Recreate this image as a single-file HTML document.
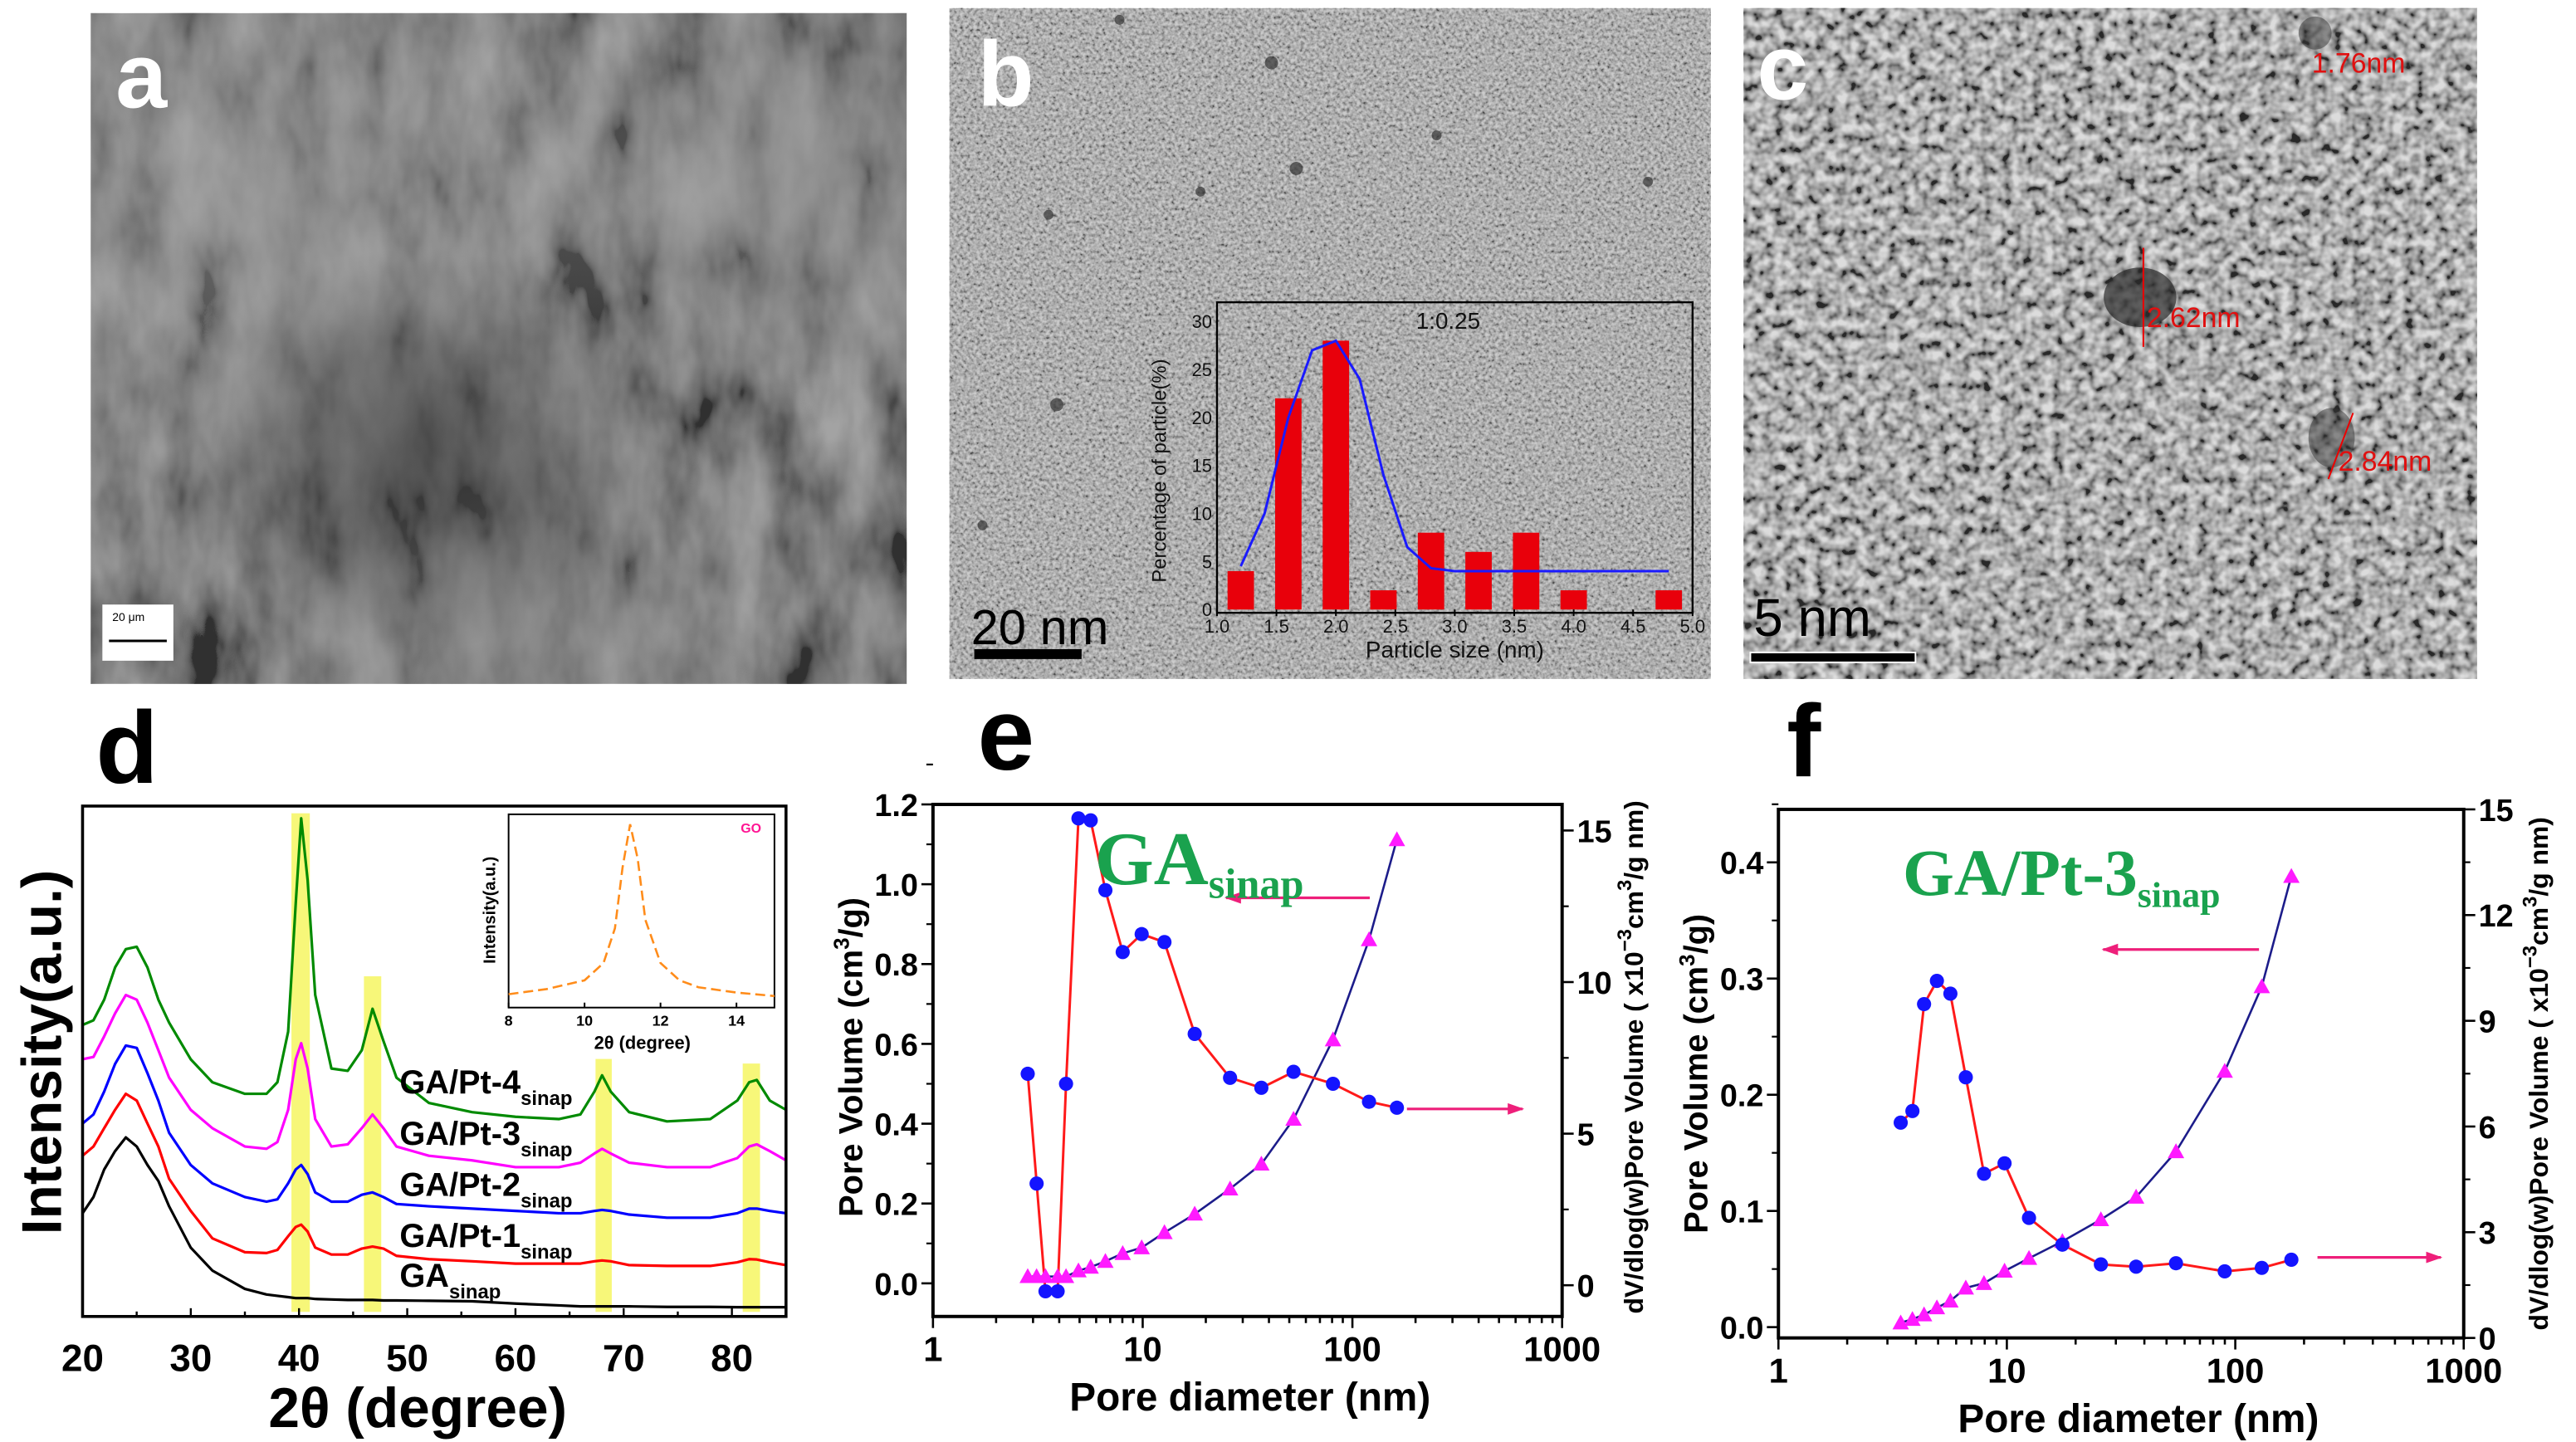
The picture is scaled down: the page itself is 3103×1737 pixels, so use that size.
<!DOCTYPE html>
<html><head><meta charset="utf-8"><style>
html,body{margin:0;padding:0;background:#fff;}
svg{display:block;font-family:"Liberation Sans",sans-serif;}
</style></head><body>
<svg id="fig" width="3103" height="1737" viewBox="0 0 1560 873" preserveAspectRatio="none" xmlns="http://www.w3.org/2000/svg">
<defs>
<filter id="noiseA" x="0" y="0" width="100%" height="100%"><feTurbulence type="fractalNoise" baseFrequency="0.03 0.014" numOctaves="4" seed="3"/><feColorMatrix type="matrix" values="1.6 0 0 0 -0.35  1.6 0 0 0 -0.35  1.6 0 0 0 -0.35  0 0 0 0 1"/></filter>
<filter id="noiseB" x="0" y="0" width="100%" height="100%"><feTurbulence type="fractalNoise" baseFrequency="0.5" numOctaves="2" seed="7"/><feColorMatrix type="matrix" values="1.8 0 0 0 -0.35  1.8 0 0 0 -0.35  1.8 0 0 0 -0.35  0 0 0 0 1"/></filter>
<filter id="noiseC" x="0" y="0" width="100%" height="100%"><feTurbulence type="fractalNoise" baseFrequency="0.16" numOctaves="2" seed="11"/><feColorMatrix type="matrix" values="2.0 0 0 0 -0.5  2.0 0 0 0 -0.5  2.0 0 0 0 -0.5  0 0 0 0 1"/></filter>
<radialGradient id="gA1" cx="0.25" cy="0.3" r="0.45"><stop offset="0" stop-color="#a0a0a0"/><stop offset="1" stop-color="#a0a0a0" stop-opacity="0"/></radialGradient>
<radialGradient id="gA2" cx="0.85" cy="0.25" r="0.35"><stop offset="0" stop-color="#959595"/><stop offset="1" stop-color="#959595" stop-opacity="0"/></radialGradient>
<radialGradient id="gA3" cx="0.5" cy="0.95" r="0.35"><stop offset="0" stop-color="#8a8a8a"/><stop offset="1" stop-color="#8a8a8a" stop-opacity="0"/></radialGradient>
<radialGradient id="gA4" cx="0.4" cy="0.65" r="0.3"><stop offset="0" stop-color="#2e2e2e"/><stop offset="1" stop-color="#2e2e2e" stop-opacity="0"/></radialGradient>
<marker id="arrL" markerWidth="10" markerHeight="8" refX="9" refY="4" orient="auto" markerUnits="userSpaceOnUse"><path d="M0,0.5 L10,4 L0,7.5 Z" fill="#ee1f7a"/></marker>
</defs>

<!-- Panel a -->
<g>
<rect x="55" y="8" width="494" height="406" fill="#585858"/>
<rect x="55" y="8" width="494" height="406" filter="url(#noiseA)" opacity="0.45"/>
<rect x="55" y="8" width="494" height="406" fill="url(#gA1)" opacity="0.6"/>
<rect x="55" y="8" width="494" height="406" fill="url(#gA2)" opacity="0.6"/>
<rect x="55" y="8" width="494" height="406" fill="url(#gA3)" opacity="0.6"/>
<rect x="55" y="8" width="494" height="406" fill="url(#gA4)" opacity="0.6"/>
<rect x="62" y="366" width="43" height="34" fill="#fff"/>
<text x="68" y="376" font-size="7" fill="#000">20 μm</text>
<line x1="66" y1="388" x2="101" y2="388" stroke="#000" stroke-width="1.5"/>
<text x="70" y="65" font-size="56" font-weight="bold" fill="#fff">a</text>
</g>

<!-- Panel b -->
<g>
<rect x="575" y="5" width="461" height="406" fill="#999"/>
<rect x="575" y="5" width="461" height="406" filter="url(#noiseB)" opacity="0.5"/>
<g fill="#333" opacity="0.7">
<circle cx="770" cy="38" r="4"/><circle cx="785" cy="102" r="4"/><circle cx="727" cy="116" r="3"/><circle cx="635" cy="130" r="3"/><circle cx="870" cy="82" r="3"/><circle cx="640" cy="245" r="4"/><circle cx="595" cy="318" r="3"/><circle cx="998" cy="110" r="3"/><circle cx="678" cy="12" r="3"/>
</g>
<text x="592" y="64" font-size="56" font-weight="bold" fill="#fff">b</text>
<text x="588" y="390" font-size="30" fill="#000">20  nm</text>
<rect x="590" y="393" width="65" height="6" fill="#000"/>
<rect x="737" y="183" width="288" height="188" fill="none" stroke="#000" stroke-width="1.2"/>
<g id="histo"></g>
</g>

<!-- Panel c -->
<g>
<rect x="1056" y="5" width="444" height="406" fill="#8a8a8a"/>
<rect x="1056" y="5" width="444" height="406" filter="url(#noiseC)" opacity="0.7"/>
<ellipse cx="1296" cy="180" rx="22" ry="18" fill="#2a2a2a" opacity="0.7"/>
<ellipse cx="1412" cy="265" rx="14" ry="18" fill="#333" opacity="0.5"/>
<ellipse cx="1402" cy="20" rx="10" ry="10" fill="#333" opacity="0.5"/>
<line x1="1298" y1="150" x2="1298" y2="210" stroke="#e00" stroke-width="1"/>
<line x1="1425" y1="250" x2="1410" y2="290" stroke="#e00" stroke-width="1"/>
<text x="1400" y="44" font-size="17" fill="#e01010">1.76nm</text>
<text x="1300" y="198" font-size="17" fill="#e01010">2.62nm</text>
<text x="1416" y="285" font-size="17" fill="#e01010">2.84nm</text>
<text x="1064" y="60" font-size="56" font-weight="bold" fill="#fff">c</text>
<text x="1062" y="385" font-size="32" fill="#000">5  nm</text>
<rect x="1060" y="395" width="100" height="6" fill="#000" stroke="#fff" stroke-width="1"/>
</g>

<!-- Panel labels d e f -->
<text x="58" y="474" font-size="62" font-weight="bold">d</text>
<text x="592" y="466" font-size="62" font-weight="bold">e</text>
<text x="1082" y="470" font-size="62" font-weight="bold">f</text>

<g id="xrd"></g>
<g id="poreE"></g>
<g id="poreF"></g>
</svg>
<script>
// ---------- Histogram (panel b inset) ----------
const histSizes = [1.2, 1.6, 2.0, 2.4, 2.8, 3.2, 3.6, 4.0, 4.8];
const histPercent = [4, 22, 28, 2, 8, 6, 8, 2, 2];
const fitSizes = [1.2, 1.4, 1.6, 1.8, 2.0, 2.2, 2.4, 2.6, 2.8, 3.0, 4.8];
const fitPercent = [4.5, 10, 20, 27, 28, 24, 14, 6.5, 4.3, 4, 4];
const histXTicks = ["1.0","1.5","2.0","2.5","3.0","3.5","4.0","4.5","5.0"];
const histYTicks = [0, 5, 10, 15, 20, 25, 30];

// ---------- XRD (panel d) ----------
const xrdAngles = [20,21,22,23,24,25,26,27,28,30,32,35,37,38,39,39.7,40.2,40.8,41.5,43,44.5,45.8,46.8,47.8,49,52,56,60,64,66,67.3,68,68.8,70.5,74,78,80.5,81.6,82.3,83.5,85];
const xrdGA = [225,260,320,360,390,370,330,295,240,150,100,60,48,45,42,40,40,40,38,37,36,36,36,35,35,34,33,28,24,22,22,22,22,22,21,21,20,20,20,20,20];
const xrdPt1 = [350,370,410,450,485,470,420,370,300,230,170,140,138,145,175,195,200,185,150,135,135,148,152,148,132,125,120,115,115,115,120,122,120,112,110,110,118,125,124,118,112];
const xrdPt2 = [420,440,490,550,590,585,530,470,400,330,290,260,250,255,290,320,330,310,270,250,250,265,270,260,245,240,235,230,225,225,230,232,230,222,215,215,225,235,235,230,225];
const xrdPt3 = [560,565,610,660,700,690,640,580,520,450,410,370,365,380,450,560,595,540,430,370,375,410,440,410,370,350,340,325,325,335,355,365,355,335,325,325,345,370,375,360,340];
const xrdPt4 = [635,645,690,760,800,805,760,690,640,560,510,485,485,510,620,900,1085,950,700,540,535,580,670,600,520,465,445,435,430,440,490,525,490,445,425,430,470,510,515,470,450];
const xrdXTicks = [20,30,40,50,60,70,80];
const xrdBands = [[39.3,41.0,1085],[46.0,47.6,730],[67.4,68.9,550],[81.0,82.6,540]];
const goAngles = [8,9,10,10.5,10.8,11,11.2,11.4,11.6,12,12.5,13,14,15];
const goIntensity = [0.02,0.05,0.1,0.2,0.4,0.75,1,0.8,0.45,0.2,0.1,0.06,0.03,0.01];
const goXTicks = [8,10,12,14];

// ---------- Pore (panel e) ----------
const eDiam = [2.83,3.12,3.44,3.93,4.31,4.94,5.65,6.64,8.03,9.89,12.7,17.7,26.1,36.8,52.4,80.8,120,163];
const ePoreVol = [0.525,0.25,-0.02,-0.02,0.5,1.165,1.16,0.985,0.83,0.875,0.855,0.625,0.515,0.49,0.53,0.5,0.455,0.44];
const eDiamTri = [2.83,3.12,3.44,3.93,4.31,4.94,5.65,6.64,8.03,9.89,12.7,17.7,26.1,36.8,52.4,80.8,120,163];
const eDvDlog = [0.29,0.29,0.29,0.29,0.29,0.48,0.6,0.79,1.05,1.24,1.74,2.35,3.18,4.0,5.48,8.1,11.4,14.7];
const eLeftTicks = ["0.0","0.2","0.4","0.6","0.8","1.0","1.2"];
const eRightTicks = [0,5,10,15];

// ---------- Pore (panel f) ----------
const fDiam = [3.43,3.86,4.34,4.94,5.66,6.61,7.94,9.77,12.5,17.5,25.8,36.8,55,89.9,130.6,176];
const fPoreVol = [0.176,0.186,0.278,0.298,0.287,0.215,0.132,0.141,0.094,0.071,0.054,0.052,0.055,0.048,0.051,0.058];
const fDiamTri = [3.43,3.86,4.34,4.94,5.66,6.61,7.94,9.77,12.5,17.5,25.8,36.8,55,89.9,130.6,176];
const fDvDlog = [0.43,0.53,0.66,0.86,1.05,1.42,1.55,1.9,2.26,2.74,3.36,4.0,5.29,7.57,9.97,13.1];
const fLeftTicks = ["0.0","0.1","0.2","0.3","0.4"];
const fRightTicks = [0,3,6,9,12,15];
const xLogTicks = [1,10,100,1000];

const NS = "http://www.w3.org/2000/svg";
function mk(parent, tag, attrs, txt){
  const e = document.createElementNS(NS, tag);
  for (const k in attrs) e.setAttribute(k, attrs[k]);
  if (txt !== undefined) e.textContent = txt;
  parent.appendChild(e);
  return e;
}
function pathOf(xs, ys){ return xs.map((x,i)=>(i?"L":"M")+x.toFixed(1)+","+ys[i].toFixed(1)).join(" "); }

// ===== Histogram =====
(function(){
  const g = document.getElementById("histo");
  const L=737,R=1025,T=183,B=369;
  const hx = v => L + (v-1.0)/(4.0)*(R-L);
  const hy = v => B - v/32*(B-T);
  histSizes.forEach((s,i)=>{
    const r = mk(g,"rect",{x:hx(s)-8,y:hy(histPercent[i]),width:16,height:B-hy(histPercent[i]),fill:"#e8000b"});
    
    
  });
  const fit = mk(g,"path",{d:pathOf(fitSizes.map(hx),fitPercent.map(hy)),fill:"none",stroke:"#1a1aff","stroke-width":1.5});
  
  
  histXTicks.forEach(t=>{
    const v=parseFloat(t);
    mk(g,"line",{x1:hx(v),y1:B,x2:hx(v),y2:B+4,stroke:"#000"});
    const tx = mk(g,"text",{x:hx(v),y:B+14,"font-size":11,"text-anchor":"middle",fill:"#111"},t);
    
    
  });
  histYTicks.forEach(v=>{
    const tx = mk(g,"text",{x:L-3,y:hy(v)+4,"font-size":11,"text-anchor":"end",fill:"#111"},String(v));
    
    
  });
  const xt = mk(g,"text",{x:881,y:398,"font-size":14,"text-anchor":"middle",fill:"#111"},"Particle size (nm)");
  
  
  const yt = mk(g,"text",{x:0,y:0,"font-size":12,"text-anchor":"middle",fill:"#111",transform:"translate(706,285) rotate(-90)"},"Percentage of particle(%)");
  
  
  const lab = mk(g,"text",{x:877,y:199,"font-size":14,"text-anchor":"middle",fill:"#111"},"1:0.25");
  
  
})();

// ===== XRD =====
(function(){
  const g = document.getElementById("xrd");
  const L=50,R=476,T=488,B=797;
  const xs = a => L + (a-20)/65*(R-L);
  const ys = v => B - v*0.278;
  xrdBands.forEach(b=>{
    const r = mk(g,"rect",{x:xs(b[0]),y:ys(b[2])-3,width:xs(b[1])-xs(b[0]),height:ys(10)-ys(b[2])+3,fill:"#f6f66a",opacity:0.9});
    
    
  });
  const series = [[xrdGA,"#000","xrd-line-ga"],[xrdPt1,"#ff0000","xrd-line-pt1"],[xrdPt2,"#0000ff","xrd-line-pt2"],[xrdPt3,"#ff00ff","xrd-line-pt3"],[xrdPt4,"#008a00","xrd-line-pt4"]];
  series.forEach(s=>{
    const p = mk(g,"path",{d:pathOf(xrdAngles.map(xs),s[0].map(ys)),fill:"none",stroke:s[1],"stroke-width":1.6,"stroke-linejoin":"round"});
    
    
  });
  mk(g,"rect",{x:L,y:T,width:R-L,height:B-T,fill:"none",stroke:"#000","stroke-width":1.8});
  for(let a=20;a<=85;a+=5){
    mk(g,"line",{x1:xs(a),y1:B,x2:xs(a),y2:B-(a%10===0?5:3),stroke:"#000","stroke-width":1.2});
  }
  xrdXTicks.forEach(a=>{
    const t = mk(g,"text",{x:xs(a),y:830,"font-size":23,"font-weight":"bold","text-anchor":"middle"},String(a));
    
    
  });
  const xt = mk(g,"text",{x:253,y:864,"font-size":34,"font-weight":"bold","text-anchor":"middle"},"2θ (degree)");
  
  
  const yt = mk(g,"text",{x:0,y:0,"font-size":34,"font-weight":"bold","text-anchor":"middle",transform:"translate(37,637) rotate(-90)"},"Intensity(a.u.)");
  
  
  const labels=[["GA/Pt-4",662,"legend-label-pt4"],["GA/Pt-3",693,"legend-label-pt3"],["GA/Pt-2",724,"legend-label-pt2"],["GA/Pt-1",755,"legend-label-pt1"],["GA",779,"legend-label-ga"]];
  labels.forEach(l=>{
    const t = mk(g,"text",{x:242,y:l[1],"font-size":20,"font-weight":"bold"});
    
    
    mk(t,"tspan",{},l[0]);
    mk(t,"tspan",{"font-size":12,dy:7},"sinap");
  });
  const iL=308,iR=469,iT=493,iB=610;
  const ix = a => iL + (a-8)/7*(iR-iL);
  const iy = v => 604 - v*105;
  mk(g,"rect",{x:iL,y:iT,width:iR-iL,height:iB-iT,fill:"#fff",stroke:"#000","stroke-width":1});
  const go = mk(g,"path",{d:pathOf(goAngles.map(ix),goIntensity.map(iy)),fill:"none",stroke:"#ff8c1a","stroke-width":1.3,"stroke-dasharray":"6,3"});
  
  
  goXTicks.forEach(a=>{
    mk(g,"line",{x1:ix(a),y1:iB,x2:ix(a),y2:iB-3,stroke:"#000"});
    const t = mk(g,"text",{x:ix(a),y:iB+11,"font-size":9,"font-weight":"bold","text-anchor":"middle"},String(a));
    
    
  });
  const ixt = mk(g,"text",{x:389,y:635,"font-size":11,"font-weight":"bold","text-anchor":"middle"},"2θ (degree)");
  
  
  const iyt = mk(g,"text",{x:0,y:0,"font-size":10,"font-weight":"bold","text-anchor":"middle",transform:"translate(300,551) rotate(-90)"},"Intensity(a.u.)");
  
  
  const gol = mk(g,"text",{x:461,y:504,"font-size":8,"font-weight":"bold","text-anchor":"end",fill:"#ff1493"},"GO");
  
  
})();

// ===== Pore charts =====
function poreChart(g, cfg){
  const {L,R,T,B,lMin,lMax,rMin,rMax,diam,vol,diamT,dv,lTicks,rTicks,lMinor,label,labelX,labelY,labelSize,arrowL,arrowR,prefix,titleLX,titleRX,titleY,xTitleX} = cfg;
  const xs = d => L + Math.log10(d)/3*(R-L);
  const yl = v => B - (v-lMin)/(lMax-lMin)*(B-T);
  const yr = v => B - (v-rMin)/(rMax-rMin)*(B-T);
  mk(g,"rect",{x:L,y:T,width:R-L,height:B-T,fill:"none",stroke:"#000","stroke-width":2});
  for(let dec=0;dec<3;dec++){
    for(let m=1;m<10;m++){
      const d=Math.pow(10,dec)*m;
      mk(g,"line",{x1:xs(d),y1:B,x2:xs(d),y2:B+(m===1?7:4),stroke:"#000","stroke-width":1.3});
    }
  }
  mk(g,"line",{x1:R,y1:B,x2:R,y2:B+7,stroke:"#000","stroke-width":1.3});
  xLogTicks.forEach(d=>{
    const t = mk(g,"text",{x:xs(d),y:B+27,"font-size":21,"font-weight":"bold","text-anchor":"middle"},String(d));
    
    
  });
  lTicks.forEach(s=>{
    const v=parseFloat(s);
    mk(g,"line",{x1:L,y1:yl(v),x2:L-7,y2:yl(v),stroke:"#000","stroke-width":1.3});
    mk(g,"line",{x1:L,y1:yl(v+lMinor),x2:L-4,y2:yl(v+lMinor),stroke:"#000","stroke-width":1.1});
    const t = mk(g,"text",{x:L-9,y:yl(v)+7,"font-size":19,"font-weight":"bold","text-anchor":"end"},s);
    
    
  });
  const rStep = rTicks[1]-rTicks[0];
  rTicks.forEach(v=>{
    mk(g,"line",{x1:R,y1:yr(v),x2:R+7,y2:yr(v),stroke:"#000","stroke-width":1.3});
    if (v+rStep/2<=rMax) mk(g,"line",{x1:R,y1:yr(v+rStep/2),x2:R+4,y2:yr(v+rStep/2),stroke:"#000","stroke-width":1.1});
    const t = mk(g,"text",{x:R+9,y:yr(v)+7,"font-size":19,"font-weight":"bold"},String(v));
    
    
  });
  const tri = mk(g,"path",{d:pathOf(diamT.map(xs),dv.map(yr)),fill:"none",stroke:"#1c1c8a","stroke-width":1.3});
  
  
  const ln = mk(g,"path",{d:pathOf(diam.map(xs),vol.map(yl)),fill:"none",stroke:"#ff1a1a","stroke-width":1.5});
  
  
  diamT.forEach((d,i)=>{
    const x=xs(d), y=yr(dv[i]);
    const p = mk(g,"path",{d:`M${x-5},${y+4} L${x+5},${y+4} L${x},${y-5} Z`,fill:"#ff1aff"});
    
    
  });
  diam.forEach((d,i)=>{
    const c = mk(g,"circle",{cx:xs(d),cy:yl(vol[i]),r:4.3,fill:"#1414ff"});
    
    
  });
  const a1 = mk(g,"line",{x1:xs(arrowL[0]),y1:yl(arrowL[2]),x2:xs(arrowL[1]),y2:yl(arrowL[2]),stroke:"#ee1f7a","stroke-width":1.6,"marker-end":"url(#arrL)"});
  
  
  const a2 = mk(g,"line",{x1:xs(arrowR[0]),y1:yl(arrowR[2]),x2:xs(arrowR[1]),y2:yl(arrowR[2]),stroke:"#ee1f7a","stroke-width":1.6,"marker-end":"url(#arrL)"});
  
  
  const lt = mk(g,"text",{x:xs(labelX),y:yl(labelY),"font-size":labelSize,"font-weight":"bold","font-family":"'Liberation Serif',serif",fill:"#1aa24e"});
  
  
  mk(lt,"tspan",{},label);
  mk(lt,"tspan",{"font-size":labelSize*0.55,dy:labelSize*0.18},"sinap");
  const xt = mk(g,"text",{x:xTitleX,y:B+57,"font-size":24,"font-weight":"bold","text-anchor":"middle"},"Pore diameter (nm)");
  
  
  const ylt = mk(g,"text",{x:0,y:0,"font-size":20,"font-weight":"bold","text-anchor":"middle",transform:`translate(${titleLX},${titleY}) rotate(-90)`});
  
  
  mk(ylt,"tspan",{},"Pore Volume (cm");
  mk(ylt,"tspan",{"font-size":13,dy:-8},"3");
  mk(ylt,"tspan",{dy:8},"/g)");
  const yrt = mk(g,"text",{x:0,y:0,"font-size":16,"font-weight":"bold","text-anchor":"middle",transform:`translate(${titleRX},${titleY}) rotate(-90)`});
  
  
  mk(yrt,"tspan",{},"dV/dlog(w)Pore Volume ( x10");
  mk(yrt,"tspan",{"font-size":12,dy:-7},"−3");
  mk(yrt,"tspan",{dy:7},"cm");
  mk(yrt,"tspan",{"font-size":12,dy:-7},"3");
  mk(yrt,"tspan",{dy:7},"/g nm)");
}
poreChart(document.getElementById("poreE"),{L:565,R:946,T:487,B:797,lMin:-0.083,lMax:1.2,rMin:-1.03,rMax:15.86,
  diam:eDiam,vol:ePoreVol,diamT:eDiamTri,dv:eDvDlog,lTicks:eLeftTicks,rTicks:eRightTicks,lMinor:0.1,
  label:"GA",labelX:5.9,labelY:1.0,labelSize:46,arrowL:[121,25,0.966],arrowR:[182,648,0.437],prefix:"pore-e",
  titleLX:522,titleRX:995,titleY:640,xTitleX:757});
poreChart(document.getElementById("poreF"),{L:1077,R:1492,T:490,B:810,lMin:-0.0093,lMax:0.4456,rMin:0,rMax:15,
  diam:fDiam,vol:fPoreVol,diamT:fDiamTri,dv:fDvDlog,lTicks:fLeftTicks,rTicks:fRightTicks,lMinor:0.05,
  label:"GA/Pt-3",labelX:3.5,labelY:0.372,labelSize:40,arrowL:[127,26.4,0.325],arrowR:[229,794,0.06],prefix:"pore-f",
  titleLX:1034,titleRX:1543,titleY:650,xTitleX:1295});
</script>
</body></html>
